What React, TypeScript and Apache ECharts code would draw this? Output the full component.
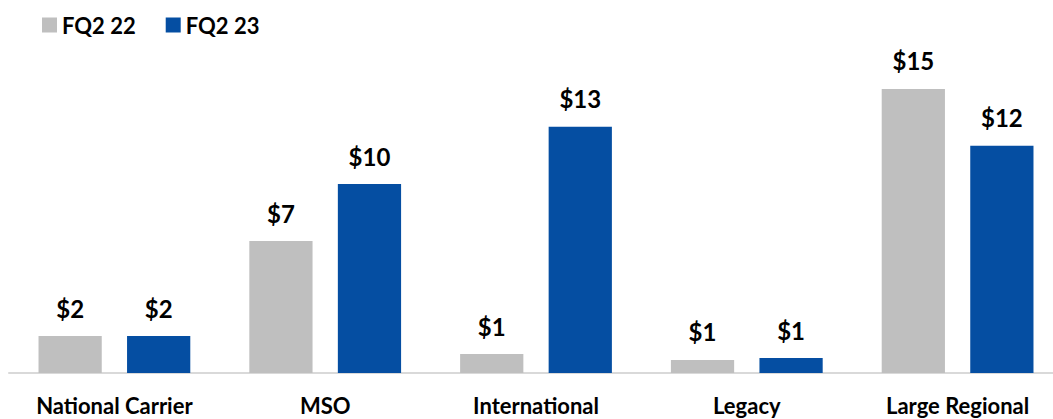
import React, { useEffect, useRef } from "react";
import * as echarts from "echarts";

const categories = ["National Carrier", "MSO", "International", "Legacy", "Large Regional"];
const seriesNames = ["FQ2 22", "FQ2 23"];
const fq222 = [1.95, 6.97, 1.0, 0.69, 15.0];
const fq223 = [1.95, 9.98, 13.0, 0.79, 12.0];
const colors = ["#BFBFBF", "#054EA2"];

const FONT = "Lato, 'Open Sans', sans-serif";

export default function App() {
  const ref = useRef<HTMLDivElement>(null);
  useEffect(() => {
    if (!ref.current) return;
    const chart = echarts.init(ref.current, undefined, { renderer: "svg" });
    const label = {
      show: true,
      position: "top",
      distance: 16,
      formatter: (p: any) => "$" + Math.round(p.value),
      fontFamily: FONT,
      fontWeight: "bold",
      fontSize: 24,
      color: "#000",
    };
    chart.setOption({
      animation: false,
      legend: {
        left: 37,
        top: 9,
        itemWidth: 15,
        itemHeight: 15,
        itemGap: 30,
        icon: "rect",
        textStyle: { fontFamily: FONT, fontWeight: "bold", fontSize: 22, color: "#000" },
        data: seriesNames,
      },
      grid: {
        left: 9,
        width: 1054,
        top: 70,
        bottom: 46,
        containLabel: false,
        outerBoundsMode: "none",
      },
      xAxis: {
        type: "category",
        data: categories,
        axisLine: { lineStyle: { color: "#D9D9D9", width: 2 } },
        axisTick: { show: false },
        axisLabel: {
          fontFamily: FONT,
          fontWeight: "bold",
          fontSize: 22,
          color: "#000",
          margin: 21,
          interval: 0,
        },
      },
      yAxis: {
        type: "value",
        min: 0,
        max: 16,
        show: false,
        splitLine: { show: false },
      },
      series: [
        {
          name: seriesNames[0],
          type: "bar",
          data: fq222,
          barWidth: "30%",
          barGap: "40%",
          itemStyle: { color: colors[0] },
          label,
        },
        {
          name: seriesNames[1],
          type: "bar",
          data: fq223,
          barWidth: "30%",
          barGap: "40%",
          itemStyle: { color: colors[1] },
          label,
        },
      ],
    });
    return () => chart.dispose();
  }, []);
  return (
    <div
      ref={ref}
      style={{ width: 1053, height: 419, position: "absolute", left: 0, top: 0, background: "#fff" }}
    />
  );
}
